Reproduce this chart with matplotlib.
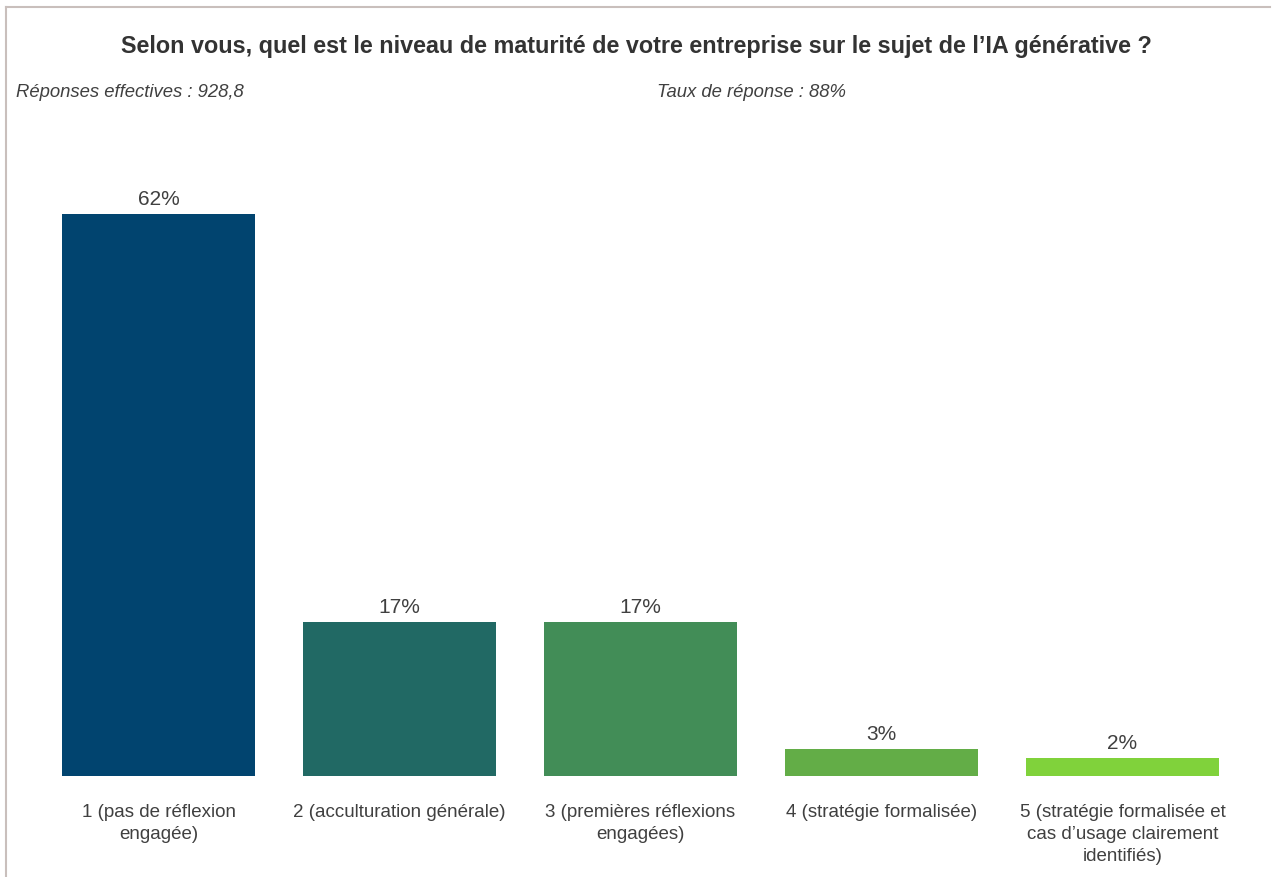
import matplotlib.pyplot as plt
from matplotlib.lines import Line2D

plt.rcParams['font.family'] = ['Liberation Sans', 'DejaVu Sans']

categories = [
    "1 (pas de réflexion\nengagée)",
    "2 (acculturation générale)",
    "3 (premières réflexions\nengagées)",
    "4 (stratégie formalisée)",
    "5 (stratégie formalisée et\ncas d\u2019usage clairement\nidentifiés)",
]
values = [62, 17, 17, 3, 2]
colors = ["#01446f", "#216964", "#428d57", "#63ad47", "#80d23b"]

title = "Selon vous, quel est le niveau de maturité de votre entreprise sur le sujet de l\u2019IA générative ?"
note_left = "Réponses effectives : 928,8"
note_right = "Taux de réponse : 88%"

text_color = "#404040"

fig = plt.figure(figsize=(12.72, 8.77), dpi=100)
ax = fig.add_axes([0.0299, 0.1152, 0.9473, 0.7234])

x = list(range(len(values)))
bars = ax.bar(x, values, width=0.8, color=colors)

for b, v in zip(bars, values):
    ax.text(b.get_x() + b.get_width() / 2, v + 0.55, f"{v:.0f}%",
            ha='center', va='bottom', fontsize=15, color=text_color)

ax.set_xlim(-0.5, 4.5)
ax.set_ylim(0, 70)
ax.set_xticks(x)
ax.set_xticklabels(categories, fontsize=13.5, color=text_color, linespacing=1.4)
ax.tick_params(axis='x', length=0, pad=20)
ax.set_yticks([])
for s in ax.spines.values():
    s.set_visible(False)

fig.text(0.5, 0.947, title, ha='center', va='center', fontsize=16.8,
         fontweight='bold', color="#333333")
fig.text(0.0126, 0.895, note_left, ha='left', va='center', fontsize=13.3,
         style='italic', color=text_color)
fig.text(0.5165, 0.895, note_right, ha='left', va='center', fontsize=13.3,
         style='italic', color=text_color)

# cadre gris en haut et à gauche
border = "#c9bfbc"
fig.add_artist(Line2D([0.0047, 0.9985], [0.992, 0.992], color=border, lw=1.5,
                      transform=fig.transFigure))
fig.add_artist(Line2D([0.0047, 0.0047], [0.0, 0.992], color=border, lw=1.5,
                      transform=fig.transFigure))

fig.savefig("out.png", dpi=100, facecolor="white")
